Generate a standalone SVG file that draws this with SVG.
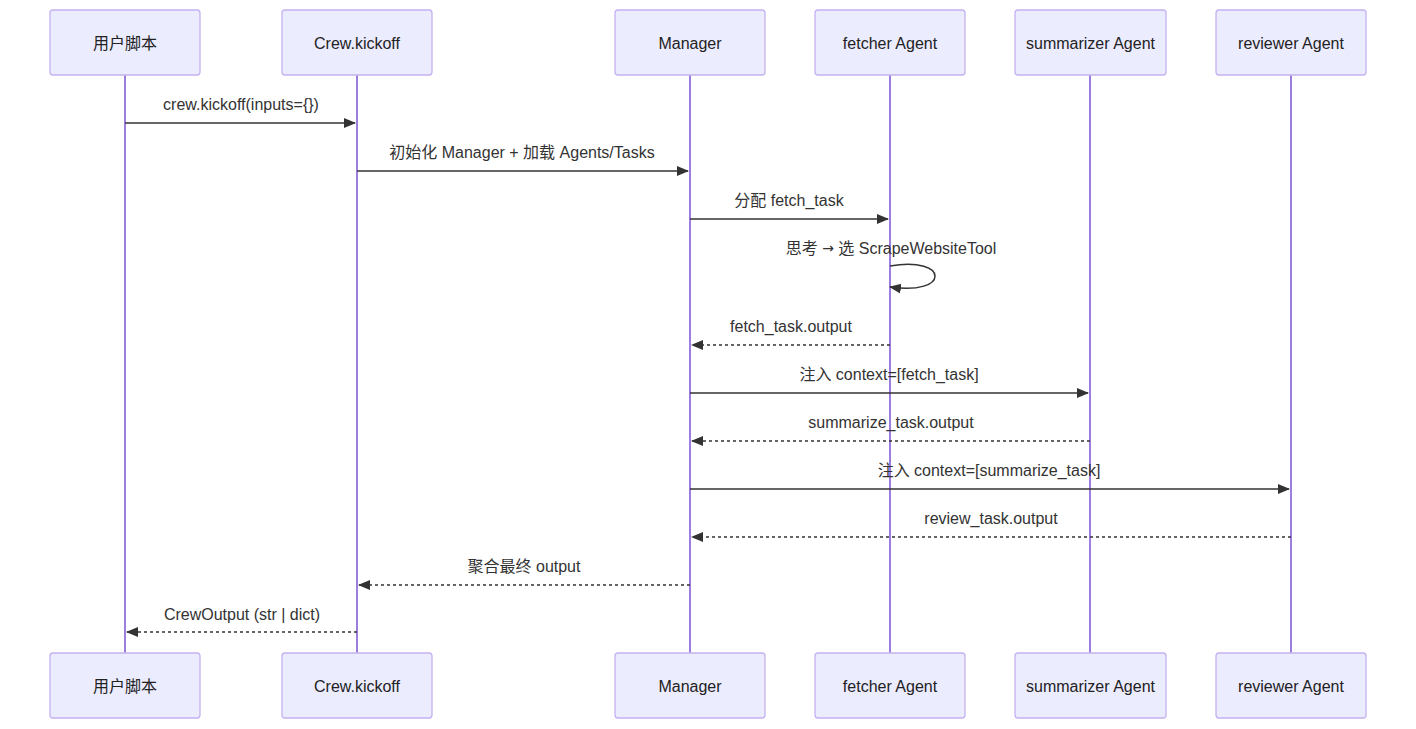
<svg xmlns="http://www.w3.org/2000/svg" width="1416" height="729" viewBox="0 0 1416 729">
<style>
.actor rect{fill:#ECECFF;stroke:#C5B1F0;stroke-width:1.3}
.actor text{font-family:"Liberation Sans","Noto Sans CJK SC",sans-serif;font-size:16px;fill:#222;text-anchor:middle;dominant-baseline:central}
.life{stroke:#9370DB;stroke-width:1.8}
.msg{stroke:#333;stroke-width:1.5;fill:none}
.dash{stroke-dasharray:3,3}
.lbl{font-family:"Liberation Sans","Noto Sans CJK SC",sans-serif;font-size:16px;fill:#333;text-anchor:middle;dominant-baseline:central}
.sym{font-family:"DejaVu Sans",sans-serif;font-size:14px}
</style>
<defs>
<marker id="arr" viewBox="0 0 12 12" refX="11" refY="6" markerWidth="12" markerHeight="12" markerUnits="userSpaceOnUse" orient="auto">
<path d="M0,1 L12,6 L0,11 z" fill="#333"/>
</marker>
</defs>
<g id="lifelines">
<line class="life" x1="125" y1="75" x2="125" y2="653"/>
<line class="life" x1="357" y1="75" x2="357" y2="653"/>
<line class="life" x1="690" y1="75" x2="690" y2="653"/>
<line class="life" x1="890" y1="75" x2="890" y2="653"/>
<line class="life" x1="1090" y1="75" x2="1090" y2="653"/>
<line class="life" x1="1291" y1="75" x2="1291" y2="653"/>
</g>
<g id="actor-user" class="actor">
<rect x="50" y="10" width="150" height="65" rx="3"/><text x="125" y="43">用户脚本</text>
<rect x="50" y="653" width="150" height="65" rx="3"/><text x="125" y="686">用户脚本</text>
</g>
<g id="actor-crew" class="actor">
<rect x="282" y="10" width="150" height="65" rx="3"/><text x="357" y="43">Crew.kickoff</text>
<rect x="282" y="653" width="150" height="65" rx="3"/><text x="357" y="686">Crew.kickoff</text>
</g>
<g id="actor-manager" class="actor">
<rect x="615" y="10" width="150" height="65" rx="3"/><text x="690" y="43">Manager</text>
<rect x="615" y="653" width="150" height="65" rx="3"/><text x="690" y="686">Manager</text>
</g>
<g id="actor-fetcher" class="actor">
<rect x="815" y="10" width="150" height="65" rx="3"/><text x="890" y="43">fetcher Agent</text>
<rect x="815" y="653" width="150" height="65" rx="3"/><text x="890" y="686">fetcher Agent</text>
</g>
<g id="actor-summarizer" class="actor">
<rect x="1015" y="10" width="151" height="65" rx="3"/><text x="1090.5" y="43">summarizer Agent</text>
<rect x="1015" y="653" width="151" height="65" rx="3"/><text x="1090.5" y="686">summarizer Agent</text>
</g>
<g id="actor-reviewer" class="actor">
<rect x="1216" y="10" width="150" height="65" rx="3"/><text x="1291" y="43">reviewer Agent</text>
<rect x="1216" y="653" width="150" height="65" rx="3"/><text x="1291" y="686">reviewer Agent</text>
</g>
<g id="connectors">
<line class="msg" x1="125" y1="123" x2="355" y2="123" marker-end="url(#arr)"/>
<line class="msg" x1="357" y1="171" x2="688" y2="171" marker-end="url(#arr)"/>
<line class="msg" x1="690" y1="219" x2="888" y2="219" marker-end="url(#arr)"/>
<path class="msg" d="M890,266 C950,256 950,296 890,287" marker-end="url(#arr)"/>
<line class="msg dash" x1="890" y1="345" x2="692" y2="345" marker-end="url(#arr)"/>
<line class="msg" x1="690" y1="393" x2="1088" y2="393" marker-end="url(#arr)"/>
<line class="msg dash" x1="1090" y1="441" x2="692" y2="441" marker-end="url(#arr)"/>
<line class="msg" x1="690" y1="489" x2="1289" y2="489" marker-end="url(#arr)"/>
<line class="msg dash" x1="1291" y1="537" x2="692" y2="537" marker-end="url(#arr)"/>
<line class="msg dash" x1="690" y1="585" x2="359" y2="585" marker-end="url(#arr)"/>
<line class="msg dash" x1="357" y1="632" x2="127" y2="632" marker-end="url(#arr)"/>
</g>
<g id="labels">
<text class="lbl" x="241" y="104">crew.kickoff(inputs={})</text>
<text class="lbl" x="522" y="152">初始化 Manager + 加载 Agents/Tasks</text>
<text class="lbl" x="789" y="200">分配 fetch_task</text>
<text class="lbl" x="891" y="248">思考 <tspan class="sym">→</tspan> 选 ScrapeWebsiteTool</text>
<text class="lbl" x="791" y="326">fetch_task.output</text>
<text class="lbl" x="889" y="374">注入 context=[fetch_task]</text>
<text class="lbl" x="891" y="422">summarize_task.output</text>
<text class="lbl" x="989" y="470">注入 context=[summarize_task]</text>
<text class="lbl" x="991" y="518">review_task.output</text>
<text class="lbl" x="524" y="566">聚合最终 output</text>
<text class="lbl" x="242" y="614">CrewOutput (str | dict)</text>
</g>
</svg>
